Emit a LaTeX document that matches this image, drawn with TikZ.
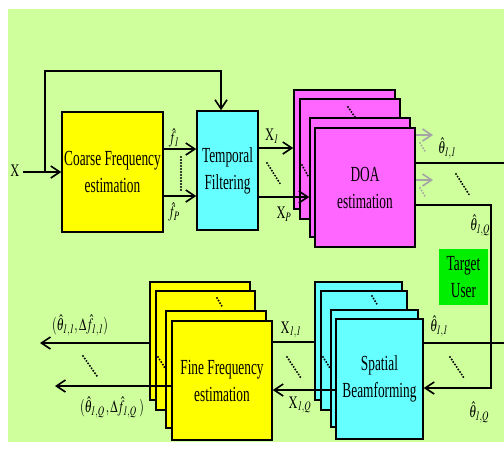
\documentclass[tikz,border=0pt]{standalone}
\usepackage{mathptmx}
\usepackage{fontspec}
\setmainfont{Liberation Serif}[FakeStretch=0.62]
\usetikzlibrary{arrows.meta}
\definecolor{bggreen}{RGB}{206,255,156}
\definecolor{boxyellow}{RGB}{255,255,0}
\definecolor{boxcyan}{RGB}{102,255,255}
\definecolor{boxmag}{RGB}{255,102,255}
\definecolor{tgreen}{RGB}{0,238,0}
\definecolor{garrow}{RGB}{165,165,165}
\newcommand{\lab}[1]{\scalebox{0.68}[1]{$#1$}}
\begin{document}
\begin{tikzpicture}[x=1pt,y=-1pt,
  blk/.style={draw=black,line width=1.5pt,inner sep=0pt,align=center,
    font=\fontsize{21.5}{27}\selectfont},
  lbl/.style={inner sep=0pt,font=\fontsize{17.5}{18}\selectfont},
  conn/.style={draw=black,line width=1.6pt},
  arr/.style={conn,-{Straight Barb[length=9pt,width=12pt]}},
  garr/.style={draw=garrow,line width=1.6pt,-{Straight Barb[length=9pt,width=12pt]}},
  dotsl/.style={line width=2.2pt,line cap=round,dash pattern=on 0pt off 3pt},
  gdots/.style={dotsl,draw=garrow}]
% background
\fill[white] (0,0) rectangle (504,450);
\fill[bggreen] (8,9) rectangle (504,442);
\useasboundingbox (0,0) rectangle (504,450);
% level coordinates
\coordinate (yf1) at (0,149);
\coordinate (yfP) at (0,196);
\coordinate (yx1) at (0,148);
\coordinate (yxP) at (0,197);
\coordinate (yg1) at (0,135);
\coordinate (yg2) at (0,180);
\coordinate (yt1) at (0,163);
\coordinate (ytQ) at (0,205);
\coordinate (yb1) at (0,343);
\coordinate (ybQ) at (0,388);
\coordinate (yx11) at (0,342);
\coordinate (yx1Q) at (0,390);
\coordinate (yo1) at (0,343);
\coordinate (yoQ) at (0,386);
% blocks
\node[blk,fill=boxyellow,minimum width=101pt,minimum height=120pt] (coarse) at (112.5,172) {Coarse Frequency\\estimation};
\node[blk,fill=boxcyan,minimum width=61pt,minimum height=119pt] (temporal) at (227.5,170.5) {Temporal\\Filtering};
% DOA stack
\node[blk,fill=boxmag,minimum width=101pt,minimum height=119pt] (doa1) at (344.5,149.5) {};
\node[blk,fill=boxmag,minimum width=100pt,minimum height=120pt] (doa2) at (350,159) {};
\draw[dotsl] (348,107) -- (355,117);
\draw[dotsl] (302,165) -- (308,176);
\node[blk,fill=boxmag,minimum width=100pt,minimum height=119pt] (doa3) at (360,177.5) {};
\node[blk,fill=boxmag,minimum width=100pt,minimum height=119pt] (doa4) at (365,187.5) {DOA\\estimation};
% Target user
\node[blk,draw=none,fill=tgreen,minimum width=49pt,minimum height=56pt] (target) at (463.5,277) {Target\\User};
% Spatial beamforming stack
\node[blk,fill=boxcyan,minimum width=87pt,minimum height=118pt] (sb1) at (358.5,341) {};
\node[blk,fill=boxcyan,minimum width=86pt,minimum height=119pt] (sb2) at (364,350.5) {};
\draw[dotsl] (372,296) -- (378,306);
\draw[dotsl] (323,357) -- (330,368);
\node[blk,fill=boxcyan,minimum width=87pt,minimum height=117pt] (sb3) at (374.5,368.5) {};
\node[blk,fill=boxcyan,minimum width=87pt,minimum height=120pt] (sb4) at (379.5,379) {Spatial\\Beamforming};
% Fine frequency stack
\node[blk,fill=boxyellow,minimum width=100pt,minimum height=118pt] (ff1) at (200,341) {};
\node[blk,fill=boxyellow,minimum width=99pt,minimum height=119pt] (ff2) at (205.5,350.5) {};
\draw[dotsl] (217,298) -- (223,308);
\draw[dotsl] (158,357) -- (165,368);
\node[blk,fill=boxyellow,minimum width=100pt,minimum height=117pt] (ff3) at (216,369.5) {};
\node[blk,fill=boxyellow,minimum width=100pt,minimum height=119pt] (ff4) at (222,380.5) {Fine Frequency\\estimation};
% input and feedback
\node[lbl] (xlab) at (15,171) {\lab{\mathrm{X}}};
\coordinate (xin) at (23,172);
\coordinate (split) at (45,172);
\coordinate (fbtop) at (45,71);
\draw[arr] (xin) -- (coarse.west);
\draw[arr] (split) -- (fbtop) -| ([xshift=-6.5pt]temporal.north);
% coarse -> temporal
\draw[arr] (coarse.east |- yf1) -- (temporal.west |- yf1);
\draw[arr] (coarse.east |- yfP) -- (temporal.west |- yfP);
\draw[dotsl] (181,157) -- (181,191);
\node[lbl] (f1lab) at (174,138) {\lab{\hat{f}_{\mathit{1}}}};
\node[lbl] (fPlab) at (174,212) {\lab{\hat{f}_{P}}};
% temporal -> DOA
\draw[arr] (temporal.east |- yx1) -- (doa1.west |- yx1);
\draw[arr] (temporal.east |- yxP) -- (doa3.west |- yxP);
\draw[dotsl] (267,163) -- (281,185);
\node[lbl] (x1lab) at (272,136) {\lab{\mathrm{X}_{\mathit{1}}}};
\node[lbl] (xPlab) at (284,214) {\lab{\mathrm{X}_{P}}};
% DOA outputs
\coordinate (g1) at (433,135);
\coordinate (g2) at (433,180);
\draw[garr] (doa4.east |- yg1) -- (g1);
\draw[garr] (doa4.east |- yg2) -- (g2);
\draw[gdots] (420,143) -- (426,153);
\draw[gdots] (420,188) -- (426,198);
\coordinate (redgeA) at (504,163);
\draw[conn] (doa4.east |- yt1) -- (redgeA);
\coordinate (turn) at (491,205);
\draw[arr] (doa4.east |- ytQ) -- (turn) |- (sb4.east |- ybQ);
\draw[dotsl] (456,174) -- (470,196);
\node[lbl] (t11a) at (447,148) {\lab{\hat{\theta}_{\mathit{1,1}}}};
\node[lbl] (t1Qa) at (480,225) {\lab{\hat{\theta}_{\mathit{1},Q}}};
% spatial inputs/outputs
\coordinate (redgeB) at (504,343);
\draw[conn] (sb4.east |- yb1) -- (redgeB);
\draw[dotsl] (450,357) -- (464,378);
\node[lbl] (t11b) at (439,326) {\lab{\hat{\theta}_{\mathit{1,1}}}};
\node[lbl] (t1Qb) at (479,412) {\lab{\hat{\theta}_{\mathit{1},Q}}};
\draw[conn] (sb1.west |- yx11) -- (ff4.east |- yx11);
\draw[arr] (sb4.west |- yx1Q) -- (ff4.east |- yx1Q);
\draw[dotsl] (287,357) -- (301,378);
\node[lbl] (x11lab) at (291,330) {\lab{\mathrm{X}_{\mathit{1,1}}}};
\node[lbl] (x1Qlab) at (300,405) {\lab{\mathrm{X}_{\mathit{1},Q}}};
% final outputs
\coordinate (out1) at (40,343);
\coordinate (outQ) at (55,386);
\draw[arr] (ff1.west |- yo1) -- (out1);
\draw[arr] (ff4.west |- yoQ) -- (outQ);
\draw[dotsl] (83,356) -- (97,376);
\node[lbl] (o1lab) at (80,325) {\lab{(\hat{\theta}_{\mathit{1,1}},\Delta\hat{f}_{\mathit{1,1}})}};
\node[lbl] (oQlab) at (112,407) {\lab{(\hat{\theta}_{\mathit{1},Q}\,,\Delta\hat{f}_{\mathit{1},Q}\;)}};
\end{tikzpicture}
\end{document}
